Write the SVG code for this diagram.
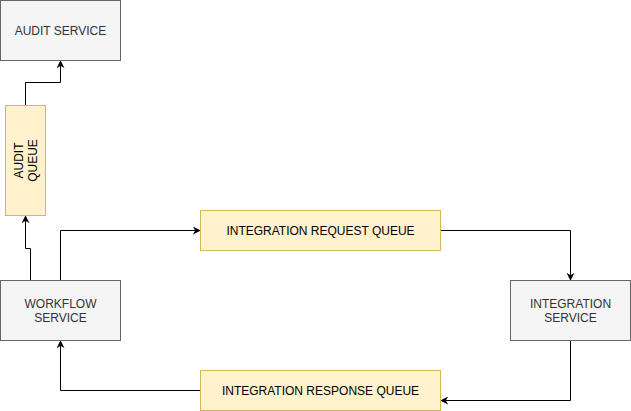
<svg xmlns="http://www.w3.org/2000/svg" width="631" height="411" viewBox="0 0 631 411">
<style>
.svc{fill:#f5f5f5;stroke:#666666;stroke-width:1}
.q{fill:#fff2cc;stroke:#d6b656;stroke-width:1}
.t{font-family:"Liberation Sans",Arial,sans-serif;font-size:12px;text-anchor:middle;dominant-baseline:central}
.ts{fill:#333333}
.tq{fill:#000000}
.c{fill:none;stroke:#000000;stroke-width:1}
</style>
<defs>
<marker id="arr" viewBox="0 0 10 10" refX="9" refY="5" markerWidth="8" markerHeight="8" markerUnits="userSpaceOnUse" orient="auto">
<path d="M0,0 L10,5 L0,10 L3,5 Z" fill="#000000"/>
</marker>
</defs>
<g id="connectors">
<path class="c" d="M25.5,105 V82.5 H60.5 V61" marker-end="url(#arr)"/>
<path class="c" d="M30.5,280 V248.5 H25.5 V216" marker-end="url(#arr)"/>
<path class="c" d="M60.5,280 V230.5 H200" marker-end="url(#arr)"/>
<path class="c" d="M440.5,230.5 H570.5 V280" marker-end="url(#arr)"/>
<path class="c" d="M570.5,341 V400.5 H441" marker-end="url(#arr)"/>
<path class="c" d="M200,390.5 H60.5 V341" marker-end="url(#arr)"/>
</g>
<g id="audit-service">
<rect class="svc" x="0.5" y="0.5" width="120" height="60"/>
<text class="t ts" x="60.5" y="30.5">AUDIT SERVICE</text>
</g>
<g id="audit-queue">
<rect class="q" x="5.5" y="105.5" width="40" height="110"/>
<text class="t tq" transform="translate(25.5,160.5) rotate(-90)"><tspan x="0" y="-7">AUDIT</tspan><tspan x="0" y="7">QUEUE</tspan></text>
</g>
<g id="workflow-service">
<rect class="svc" x="0.5" y="280.5" width="120" height="60"/>
<text class="t ts" x="60.5" y="310.5"><tspan x="60.5" y="303.5">WORKFLOW</tspan><tspan x="60.5" y="317.5">SERVICE</tspan></text>
</g>
<g id="integration-request-queue">
<rect class="q" x="200.5" y="210.5" width="240" height="40"/>
<text class="t tq" x="320.5" y="230.5">INTEGRATION REQUEST QUEUE</text>
</g>
<g id="integration-service">
<rect class="svc" x="510.5" y="280.5" width="120" height="60"/>
<text class="t ts"><tspan x="570.5" y="303.5">INTEGRATION</tspan><tspan x="570.5" y="317.5">SERVICE</tspan></text>
</g>
<g id="integration-response-queue">
<rect class="q" x="200.5" y="370.5" width="240" height="40"/>
<text class="t tq" x="320.5" y="390.5">INTEGRATION RESPONSE QUEUE</text>
</g>
</svg>
